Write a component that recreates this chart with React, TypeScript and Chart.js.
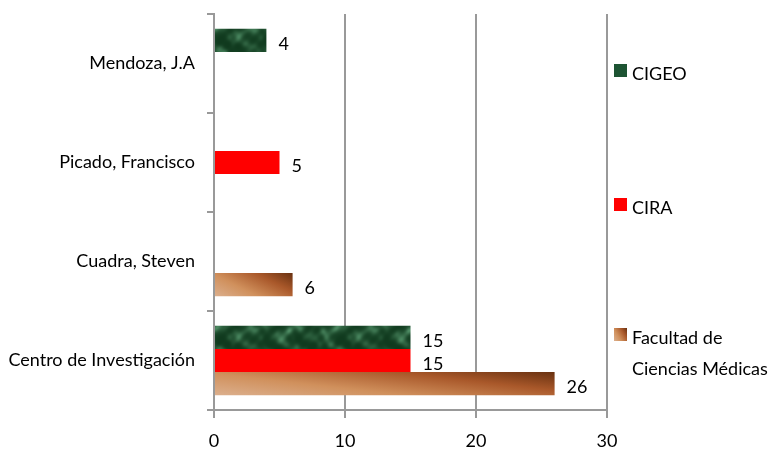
import React, { useEffect, useRef } from "react";
import { Chart, registerables } from "chart.js";

Chart.register(...registerables);

const categories = ["Mendoza, J.A", "Picado, Francisco", "Cuadra, Steven", "Centro de Investigación"];
const cigeoValues = [4, null, null, 15];
const ciraValues = [null, 5, null, 15];
const fcmValues = [null, null, 6, 26];
const seriesNames = ["CIGEO", "CIRA", "Facultad de Ciencias Médicas"];
const legendLines = [["CIGEO"], ["CIRA"], ["Facultad de", "Ciencias Médicas"]];
const xTickValues = [0, 10, 20, 30];

const FONT = "Lato, 'Open Sans', sans-serif";
const FS = 18;
const GRID = "#999999";

function makeGreenPattern(ctx: CanvasRenderingContext2D) {
  const w = 120, h = 60;
  const c = document.createElement("canvas");
  c.width = w;
  c.height = h;
  const g = c.getContext("2d")!;
  const img = g.createImageData(w, h);
  const dark = [16, 58, 30];
  const light = [78, 140, 100];
  for (let y = 0; y < h; y++) {
    for (let x = 0; x < w; x++) {
      const u = (x / w) * Math.PI * 2;
      const t = (y / h) * Math.PI * 2;
      const v =
        Math.sin(3 * u + 1.7 * Math.sin(2 * t)) * 0.45 +
        Math.cos(2 * t + 1.3 * Math.sin(5 * u)) * 0.35 +
        Math.sin(7 * u - 3 * t + Math.cos(4 * u)) * 0.2 +
        Math.cos(11 * u + 5 * t) * 0.12;
      let f = (v + 1.1) / 2.2;
      f = Math.max(0, Math.min(1, f));
      f = Math.pow(f, 2.4);
      const i = (y * w + x) * 4;
      img.data[i] = dark[0] + (light[0] - dark[0]) * f;
      img.data[i + 1] = dark[1] + (light[1] - dark[1]) * f;
      img.data[i + 2] = dark[2] + (light[2] - dark[2]) * f;
      img.data[i + 3] = 255;
    }
  }
  g.putImageData(img, 0, 0);
  return ctx.createPattern(c, "repeat");
}

function brownGradient(ctx: CanvasRenderingContext2D, x0: number, x1: number, yTop: number, yBot: number) {
  const W = Math.max(1, x1 - x0);
  const H = Math.max(1, yBot - yTop);
  const ph = 0.62, pv = 0.38;
  const S = 1 / ((ph * ph) / (W * W) + (pv * pv) / (H * H));
  const a = (ph * S) / W;
  const b = (pv * S) / H;
  const g = ctx.createLinearGradient(x0, yBot, x0 + a, yBot - b);
  g.addColorStop(0, "#dcb08e");
  g.addColorStop(0.35, "#d0905c");
  g.addColorStop(0.7, "#a9582a");
  g.addColorStop(1, "#673010");
  return g;
}

const labelPlugin = {
  id: "valueLabels",
  afterDatasetsDraw(chart: any) {
    const ctx = chart.ctx as CanvasRenderingContext2D;
    ctx.save();
    ctx.font = `${FS}px ${FONT}`;
    ctx.fillStyle = "#000";
    ctx.textAlign = "left";
    ctx.textBaseline = "middle";
    chart.data.datasets.forEach((ds: any, di: number) => {
      const meta = chart.getDatasetMeta(di);
      meta.data.forEach((el: any, i: number) => {
        const v = ds.data[i];
        if (v === null || v === undefined) return;
        ctx.fillText(String(v), el.x + 12, el.y + 4);
      });
    });
    ctx.restore();
  },
};

const legendPlugin = {
  id: "sideLegend",
  afterDraw(chart: any) {
    const ctx = chart.ctx as CanvasRenderingContext2D;
    const area = chart.chartArea;
    const x = area.right + 7;
    const ys = [area.top + 57, area.top + 191, area.top + 321];
    ctx.save();
    ctx.font = `${FS}px ${FONT}`;
    ctx.textAlign = "left";
    ctx.textBaseline = "middle";
    legendLines.forEach((lines, i) => {
      const y = ys[i];
      let fill: any;
      if (i === 0) fill = "#1d5433";
      else if (i === 1) fill = "#ff0000";
      else fill = brownGradient(ctx, x, x + 13, y - 7, y + 6);
      ctx.fillStyle = fill;
      ctx.fillRect(x, y - 7, 13, 13);
      ctx.fillStyle = "#000";
      lines.forEach((t, li) => {
        ctx.fillText(t, x + 18, y + 3 + li * 31);
      });
    });
    ctx.restore();
  },
};

export default function App() {
  const ref = useRef<HTMLCanvasElement>(null);
  useEffect(() => {
    const canvas = ref.current!;
    const ctx = canvas.getContext("2d")!;
    const greenPattern = makeGreenPattern(ctx);
    const brownFill = (c: any) => {
      const chart = c.chart;
      const sx = chart.scales?.x;
      const sy = chart.scales?.y;
      const v = c.raw;
      if (!sx || !sy || v == null) return "#b86a36";
      const x0 = sx.getPixelForValue(0);
      const x1 = sx.getPixelForValue(v);
      const yc = sy.getPixelForValue(c.dataIndex) + 23;
      return brownGradient(chart.ctx, x0, x1, yc - 12, yc + 12);
    };
    const chart = new Chart(canvas, {
      type: "bar",
      data: {
        labels: categories,
        datasets: [
          { label: seriesNames[0], data: cigeoValues as any, backgroundColor: greenPattern as any },
          { label: seriesNames[1], data: ciraValues as any, backgroundColor: "#ff0000" },
          { label: seriesNames[2], data: fcmValues as any, backgroundColor: brownFill as any },
        ],
      },
      options: {
        indexAxis: "y",
        animation: false,
        responsive: false,
        maintainAspectRatio: false,
        layout: { padding: { top: 14, right: 161, left: 0, bottom: 0 } },
        datasets: { bar: { categoryPercentage: 0.7, barPercentage: 1 } },
        plugins: { legend: { display: false }, tooltip: { enabled: false } },
        scales: {
          x: {
            min: 0,
            max: 30,
            afterBuildTicks: (s: any) => {
              s.ticks = xTickValues.map((v) => ({ value: v }));
            },
            afterFit: (s: any) => {
              s.height = 44;
              s.paddingLeft = 0;
              s.paddingRight = 0;
            },
            grid: { color: GRID, lineWidth: 2, tickLength: 8, drawTicks: true },
            border: { color: GRID, width: 2 },
            ticks: { color: "#000", font: { family: FONT, size: FS }, padding: 12 },
          },
          y: {
            afterFit: (s: any) => {
              s.width = 214;
              s.paddingTop = 0;
              s.paddingBottom = 0;
            },
            grid: { offset: true, drawOnChartArea: false, color: GRID, lineWidth: 2, tickLength: 7 },
            border: { color: GRID, width: 2 },
            ticks: { color: "#000", font: { family: FONT, size: FS }, padding: 12 },
          },
        },
      },
      plugins: [labelPlugin, legendPlugin],
    });
    return () => chart.destroy();
  }, []);
  return (
    <div style={{ position: "fixed", left: 0, top: 0, width: 768, height: 454, background: "#fff" }}>
      <canvas ref={ref} width={768} height={454} style={{ width: 768, height: 454, display: "block" }} />
    </div>
  );
}
